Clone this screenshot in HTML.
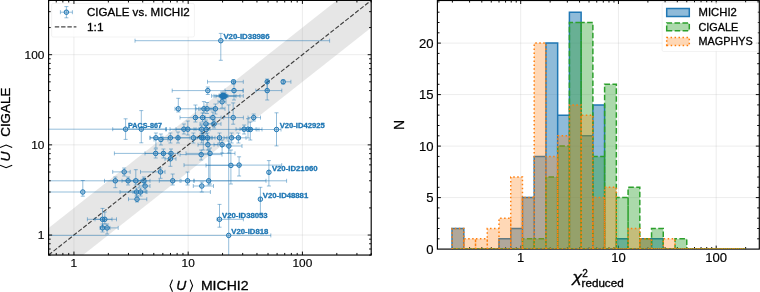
<!DOCTYPE html>
<html><head><meta charset="utf-8"><title>chart</title>
<style>html,body{margin:0;padding:0;background:#fff;}body{width:760px;height:292px;overflow:hidden;font-family:"Liberation Sans",sans-serif;}</style>
</head><body>
<svg width="760" height="292" viewBox="0 0 760 292" style="display:block;will-change:transform;opacity:0.999" font-family="Liberation Sans, sans-serif">
<style>text{stroke:#000;stroke-width:0.3px;stroke-linejoin:round} text.t{stroke-width:0.15px} text.b{stroke:#1f77b4;stroke-width:0.28px}</style>
<rect x="0" y="0" width="760" height="292" fill="#ffffff"/>
<defs><clipPath id="cl"><rect x="48.6" y="0.4" width="322.59999999999997" height="254.65"/></clipPath><clipPath id="cr"><rect x="437.4" y="0.5" width="321.9" height="248.6"/></clipPath></defs>
<g clip-path="url(#cl)">
<polygon points="14.21,255.05 371.20,-26.75 405.59,0.40 48.60,282.20" fill="#808080" fill-opacity="0.2"/>
<line x1="73.94" x2="73.94" y1="0.4" y2="255.05" stroke="#b0b0b0" stroke-opacity="0.27" stroke-width="0.9"/>
<line y1="235.04" y2="235.04" x1="48.6" x2="371.2" stroke="#b0b0b0" stroke-opacity="0.27" stroke-width="0.9"/>
<line x1="188.18" x2="188.18" y1="0.4" y2="255.05" stroke="#b0b0b0" stroke-opacity="0.27" stroke-width="0.9"/>
<line y1="144.87" y2="144.87" x1="48.6" x2="371.2" stroke="#b0b0b0" stroke-opacity="0.27" stroke-width="0.9"/>
<line x1="302.42" x2="302.42" y1="0.4" y2="255.05" stroke="#b0b0b0" stroke-opacity="0.27" stroke-width="0.9"/>
<line y1="54.69" y2="54.69" x1="48.6" x2="371.2" stroke="#b0b0b0" stroke-opacity="0.27" stroke-width="0.9"/>
<line x1="48.60" y1="255.05" x2="371.20" y2="0.40" stroke="#000" stroke-opacity="0.72" stroke-width="1.15" stroke-dasharray="4.4 1.9"/>
<path d="M135.0 40.7H329.6M220.8 33.4V60.3M207.5 81.8H243.3M233.5 80.0V84.0M267.2 81.8H267.2M267.2 79.0V90.6M283.2 81.8H290.9M283.2 80.0V84.0M172.2 90.6H243.0M207.8 87.0V94.5M225.0 90.6H243.3M234.0 81.8V100.0M255.8 90.6H281.8M267.2 81.8V100.0M211.6 95.9H243.3M222.0 92.0V99.0M214.0 95.9H240.0M223.6 93.0V99.0M216.0 96.2H236.0M224.8 93.0V99.0M219.0 95.7H227.0M222.8 94.0V98.0M220.0 96.1H228.0M224.0 94.0V98.0M220.0 96.0H227.0M223.2 94.0V98.0M218.0 101.8H226.0M222.1 98.0V108.0M175.0 108.8H198.7M178.3 98.3V112.0M196.0 108.8H212.0M203.9 101.6V113.0M200.0 108.8H214.0M207.0 102.5V113.5M210.0 108.8H225.0M215.4 104.0V114.0M180.0 117.6H205.0M195.4 105.0V122.0M196.0 117.6H210.0M202.6 113.0V122.0M205.0 117.6H221.0M212.9 112.0V123.0M223.7 117.6H243.4M233.2 102.9V124.2M248.0 117.6H260.5M253.7 114.0V121.0M200.0 123.9H212.0M205.9 120.0V128.0M208.0 123.9H221.0M214.1 120.0V128.0M40.0 129.2H166.0M125.6 118.8V139.4M112.7 129.2H166.2M141.3 110.6V142.8M170.0 129.2H196.0M183.9 124.0V134.0M176.0 129.2H199.0M187.8 121.0V135.0M194.0 129.2H210.0M201.7 125.0V134.0M166.0 129.4H262.0M206.3 125.0V134.0M236.0 129.2H252.0M244.1 125.0V134.0M240.0 129.2H256.0M248.0 118.7V138.0M243.0 129.5H259.0M250.3 122.0V140.0M257.0 129.5H281.0M276.5 112.8V145.9M150.0 137.8H162.0M155.9 133.0V148.0M154.0 139.5H168.0M160.9 134.0V145.0M163.0 137.8H178.0M170.4 133.0V143.0M150.0 137.8H190.0M178.0 132.0V143.0M178.0 137.8H212.0M193.4 133.0V143.0M195.0 137.8H208.0M201.7 133.0V143.0M197.0 137.8H210.0M203.3 133.0V150.0M200.0 137.8H215.0M207.5 133.0V143.0M212.0 137.8H227.0M219.5 133.0V143.0M224.0 137.8H240.0M231.6 133.0V143.0M232.0 137.8H246.0M238.4 133.0V143.0M198.0 144.7H218.0M207.9 140.0V150.0M214.0 144.7H230.0M222.1 140.0V153.0M222.0 146.0H242.0M228.9 141.0V153.0M114.4 153.4H163.0M155.7 149.0V158.0M145.0 153.4H171.0M163.4 149.0V158.0M164.0 153.4H178.0M171.0 149.0V158.0M180.0 154.6H222.0M201.2 150.0V160.0M186.0 153.4H235.0M210.0 148.0V184.0M165.0 158.8H176.0M170.4 154.0V166.3M112.7 171.9H130.2M124.2 168.0V176.0M140.5 171.9H165.0M160.5 168.0V178.3M206.0 165.4H240.0M230.9 150.0V184.0M184.0 165.1H281.7M239.1 156.8V176.0M268.9 172.3H268.9M268.9 160.6V186.0M40.0 180.8H286.6M115.3 177.0V187.7M122.0 180.8H134.0M128.1 177.0V185.0M104.5 180.8H141.0M135.8 169.7V185.0M138.0 180.8H150.0M143.9 177.0V185.0M159.3 180.8H180.0M172.7 174.0V185.0M181.0 180.8H194.0M187.6 172.0V185.0M194.0 180.8H266.0M208.7 150.0V185.0M139.0 186.0H150.0M145.1 182.0V190.0M193.3 186.0H213.5M201.8 182.0V192.0M40.0 192.0H210.4M82.8 180.5V196.2M120.0 192.0H146.0M136.5 188.0V196.0M133.0 192.0H147.0M140.5 188.0V196.0M128.5 199.2H146.8M137.0 196.0V202.0M260.4 199.2H260.4M260.4 187.3V214.7M87.4 219.3H112.0M102.5 208.4V227.0M95.0 219.3H116.5M104.8 212.0V224.0M100.0 227.9H110.0M102.5 224.0V232.0M104.0 227.9H118.2M107.1 224.0V234.0M217.0 219.3H243.4M219.5 204.4V227.2M40.0 235.4H270.8M228.7 104.9V262.0" stroke="#1f77b4" stroke-opacity="0.5" stroke-width="0.95" fill="none"/>
<path d="M135.0 38.7v4.0M329.6 38.7v4.0M218.8 33.4h4.0M218.8 60.3h4.0M207.5 79.8v4.0M243.3 79.8v4.0M231.5 80.0h4.0M231.5 84.0h4.0M267.2 79.8v4.0M267.2 79.8v4.0M265.2 79.0h4.0M265.2 90.6h4.0M283.2 79.8v4.0M290.9 79.8v4.0M281.2 80.0h4.0M281.2 84.0h4.0M172.2 88.6v4.0M243.0 88.6v4.0M205.8 87.0h4.0M205.8 94.5h4.0M225.0 88.6v4.0M243.3 88.6v4.0M232.0 81.8h4.0M232.0 100.0h4.0M255.8 88.6v4.0M281.8 88.6v4.0M265.2 81.8h4.0M265.2 100.0h4.0M211.6 93.9v4.0M243.3 93.9v4.0M220.0 92.0h4.0M220.0 99.0h4.0M214.0 93.9v4.0M240.0 93.9v4.0M221.6 93.0h4.0M221.6 99.0h4.0M216.0 94.2v4.0M236.0 94.2v4.0M222.8 93.0h4.0M222.8 99.0h4.0M219.0 93.7v4.0M227.0 93.7v4.0M220.8 94.0h4.0M220.8 98.0h4.0M220.0 94.1v4.0M228.0 94.1v4.0M222.0 94.0h4.0M222.0 98.0h4.0M220.0 94.0v4.0M227.0 94.0v4.0M221.2 94.0h4.0M221.2 98.0h4.0M218.0 99.8v4.0M226.0 99.8v4.0M220.1 98.0h4.0M220.1 108.0h4.0M175.0 106.8v4.0M198.7 106.8v4.0M176.3 98.3h4.0M176.3 112.0h4.0M196.0 106.8v4.0M212.0 106.8v4.0M201.9 101.6h4.0M201.9 113.0h4.0M200.0 106.8v4.0M214.0 106.8v4.0M205.0 102.5h4.0M205.0 113.5h4.0M210.0 106.8v4.0M225.0 106.8v4.0M213.4 104.0h4.0M213.4 114.0h4.0M180.0 115.6v4.0M205.0 115.6v4.0M193.4 105.0h4.0M193.4 122.0h4.0M196.0 115.6v4.0M210.0 115.6v4.0M200.6 113.0h4.0M200.6 122.0h4.0M205.0 115.6v4.0M221.0 115.6v4.0M210.9 112.0h4.0M210.9 123.0h4.0M223.7 115.6v4.0M243.4 115.6v4.0M231.2 102.9h4.0M231.2 124.2h4.0M248.0 115.6v4.0M260.5 115.6v4.0M251.7 114.0h4.0M251.7 121.0h4.0M200.0 121.9v4.0M212.0 121.9v4.0M203.9 120.0h4.0M203.9 128.0h4.0M208.0 121.9v4.0M221.0 121.9v4.0M212.1 120.0h4.0M212.1 128.0h4.0M40.0 127.2v4.0M166.0 127.2v4.0M123.6 118.8h4.0M123.6 139.4h4.0M112.7 127.2v4.0M166.2 127.2v4.0M139.3 110.6h4.0M139.3 142.8h4.0M170.0 127.2v4.0M196.0 127.2v4.0M181.9 124.0h4.0M181.9 134.0h4.0M176.0 127.2v4.0M199.0 127.2v4.0M185.8 121.0h4.0M185.8 135.0h4.0M194.0 127.2v4.0M210.0 127.2v4.0M199.7 125.0h4.0M199.7 134.0h4.0M166.0 127.4v4.0M262.0 127.4v4.0M204.3 125.0h4.0M204.3 134.0h4.0M236.0 127.2v4.0M252.0 127.2v4.0M242.1 125.0h4.0M242.1 134.0h4.0M240.0 127.2v4.0M256.0 127.2v4.0M246.0 118.7h4.0M246.0 138.0h4.0M243.0 127.5v4.0M259.0 127.5v4.0M248.3 122.0h4.0M248.3 140.0h4.0M257.0 127.5v4.0M281.0 127.5v4.0M274.5 112.8h4.0M274.5 145.9h4.0M150.0 135.8v4.0M162.0 135.8v4.0M153.9 133.0h4.0M153.9 148.0h4.0M154.0 137.5v4.0M168.0 137.5v4.0M158.9 134.0h4.0M158.9 145.0h4.0M163.0 135.8v4.0M178.0 135.8v4.0M168.4 133.0h4.0M168.4 143.0h4.0M150.0 135.8v4.0M190.0 135.8v4.0M176.0 132.0h4.0M176.0 143.0h4.0M178.0 135.8v4.0M212.0 135.8v4.0M191.4 133.0h4.0M191.4 143.0h4.0M195.0 135.8v4.0M208.0 135.8v4.0M199.7 133.0h4.0M199.7 143.0h4.0M197.0 135.8v4.0M210.0 135.8v4.0M201.3 133.0h4.0M201.3 150.0h4.0M200.0 135.8v4.0M215.0 135.8v4.0M205.5 133.0h4.0M205.5 143.0h4.0M212.0 135.8v4.0M227.0 135.8v4.0M217.5 133.0h4.0M217.5 143.0h4.0M224.0 135.8v4.0M240.0 135.8v4.0M229.6 133.0h4.0M229.6 143.0h4.0M232.0 135.8v4.0M246.0 135.8v4.0M236.4 133.0h4.0M236.4 143.0h4.0M198.0 142.7v4.0M218.0 142.7v4.0M205.9 140.0h4.0M205.9 150.0h4.0M214.0 142.7v4.0M230.0 142.7v4.0M220.1 140.0h4.0M220.1 153.0h4.0M222.0 144.0v4.0M242.0 144.0v4.0M226.9 141.0h4.0M226.9 153.0h4.0M114.4 151.4v4.0M163.0 151.4v4.0M153.7 149.0h4.0M153.7 158.0h4.0M145.0 151.4v4.0M171.0 151.4v4.0M161.4 149.0h4.0M161.4 158.0h4.0M164.0 151.4v4.0M178.0 151.4v4.0M169.0 149.0h4.0M169.0 158.0h4.0M180.0 152.6v4.0M222.0 152.6v4.0M199.2 150.0h4.0M199.2 160.0h4.0M186.0 151.4v4.0M235.0 151.4v4.0M208.0 148.0h4.0M208.0 184.0h4.0M165.0 156.8v4.0M176.0 156.8v4.0M168.4 154.0h4.0M168.4 166.3h4.0M112.7 169.9v4.0M130.2 169.9v4.0M122.2 168.0h4.0M122.2 176.0h4.0M140.5 169.9v4.0M165.0 169.9v4.0M158.5 168.0h4.0M158.5 178.3h4.0M206.0 163.4v4.0M240.0 163.4v4.0M228.9 150.0h4.0M228.9 184.0h4.0M184.0 163.1v4.0M281.7 163.1v4.0M237.1 156.8h4.0M237.1 176.0h4.0M268.9 170.3v4.0M268.9 170.3v4.0M266.9 160.6h4.0M266.9 186.0h4.0M40.0 178.8v4.0M286.6 178.8v4.0M113.3 177.0h4.0M113.3 187.7h4.0M122.0 178.8v4.0M134.0 178.8v4.0M126.1 177.0h4.0M126.1 185.0h4.0M104.5 178.8v4.0M141.0 178.8v4.0M133.8 169.7h4.0M133.8 185.0h4.0M138.0 178.8v4.0M150.0 178.8v4.0M141.9 177.0h4.0M141.9 185.0h4.0M159.3 178.8v4.0M180.0 178.8v4.0M170.7 174.0h4.0M170.7 185.0h4.0M181.0 178.8v4.0M194.0 178.8v4.0M185.6 172.0h4.0M185.6 185.0h4.0M194.0 178.8v4.0M266.0 178.8v4.0M206.7 150.0h4.0M206.7 185.0h4.0M139.0 184.0v4.0M150.0 184.0v4.0M143.1 182.0h4.0M143.1 190.0h4.0M193.3 184.0v4.0M213.5 184.0v4.0M199.8 182.0h4.0M199.8 192.0h4.0M40.0 190.0v4.0M210.4 190.0v4.0M80.8 180.5h4.0M80.8 196.2h4.0M120.0 190.0v4.0M146.0 190.0v4.0M134.5 188.0h4.0M134.5 196.0h4.0M133.0 190.0v4.0M147.0 190.0v4.0M138.5 188.0h4.0M138.5 196.0h4.0M128.5 197.2v4.0M146.8 197.2v4.0M135.0 196.0h4.0M135.0 202.0h4.0M260.4 197.2v4.0M260.4 197.2v4.0M258.4 187.3h4.0M258.4 214.7h4.0M87.4 217.3v4.0M112.0 217.3v4.0M100.5 208.4h4.0M100.5 227.0h4.0M95.0 217.3v4.0M116.5 217.3v4.0M102.8 212.0h4.0M102.8 224.0h4.0M100.0 225.9v4.0M110.0 225.9v4.0M100.5 224.0h4.0M100.5 232.0h4.0M104.0 225.9v4.0M118.2 225.9v4.0M105.1 224.0h4.0M105.1 234.0h4.0M217.0 217.3v4.0M243.4 217.3v4.0M217.5 204.4h4.0M217.5 227.2h4.0M40.0 233.4v4.0M270.8 233.4v4.0M226.7 104.9h4.0M226.7 262.0h4.0" stroke="#1f77b4" stroke-opacity="0.5" stroke-width="0.95" fill="none"/>
<circle cx="220.8" cy="40.7" r="2.25" fill="#1f77b4" fill-opacity="0.22" stroke="#1f77b4" stroke-opacity="1" stroke-width="1.0"/>
<circle cx="233.5" cy="81.8" r="2.25" fill="#1f77b4" fill-opacity="0.22" stroke="#1f77b4" stroke-opacity="1" stroke-width="1.0"/>
<circle cx="267.2" cy="81.8" r="2.25" fill="#1f77b4" fill-opacity="0.22" stroke="#1f77b4" stroke-opacity="1" stroke-width="1.0"/>
<circle cx="283.2" cy="81.8" r="2.25" fill="#1f77b4" fill-opacity="0.22" stroke="#1f77b4" stroke-opacity="1" stroke-width="1.0"/>
<circle cx="207.8" cy="90.6" r="2.25" fill="#1f77b4" fill-opacity="0.22" stroke="#1f77b4" stroke-opacity="1" stroke-width="1.0"/>
<circle cx="234.0" cy="90.6" r="2.25" fill="#1f77b4" fill-opacity="0.22" stroke="#1f77b4" stroke-opacity="1" stroke-width="1.0"/>
<circle cx="267.2" cy="90.6" r="2.25" fill="#1f77b4" fill-opacity="0.22" stroke="#1f77b4" stroke-opacity="1" stroke-width="1.0"/>
<circle cx="222.0" cy="95.9" r="2.25" fill="#1f77b4" fill-opacity="0.22" stroke="#1f77b4" stroke-opacity="1" stroke-width="1.0"/>
<circle cx="223.6" cy="95.9" r="2.25" fill="#1f77b4" fill-opacity="0.22" stroke="#1f77b4" stroke-opacity="1" stroke-width="1.0"/>
<circle cx="224.8" cy="96.2" r="2.25" fill="#1f77b4" fill-opacity="0.22" stroke="#1f77b4" stroke-opacity="1" stroke-width="1.0"/>
<circle cx="222.8" cy="95.7" r="2.25" fill="#1f77b4" fill-opacity="0.22" stroke="#1f77b4" stroke-opacity="1" stroke-width="1.0"/>
<circle cx="224.0" cy="96.1" r="2.25" fill="#1f77b4" fill-opacity="0.22" stroke="#1f77b4" stroke-opacity="1" stroke-width="1.0"/>
<circle cx="223.2" cy="96.0" r="2.25" fill="#1f77b4" fill-opacity="0.22" stroke="#1f77b4" stroke-opacity="1" stroke-width="1.0"/>
<circle cx="222.1" cy="101.8" r="2.25" fill="#1f77b4" fill-opacity="0.22" stroke="#1f77b4" stroke-opacity="1" stroke-width="1.0"/>
<circle cx="178.3" cy="108.8" r="2.25" fill="#1f77b4" fill-opacity="0.22" stroke="#1f77b4" stroke-opacity="1" stroke-width="1.0"/>
<circle cx="203.9" cy="108.8" r="2.25" fill="#1f77b4" fill-opacity="0.22" stroke="#1f77b4" stroke-opacity="1" stroke-width="1.0"/>
<circle cx="207.0" cy="108.8" r="2.25" fill="#1f77b4" fill-opacity="0.22" stroke="#1f77b4" stroke-opacity="1" stroke-width="1.0"/>
<circle cx="215.4" cy="108.8" r="2.25" fill="#1f77b4" fill-opacity="0.22" stroke="#1f77b4" stroke-opacity="1" stroke-width="1.0"/>
<circle cx="195.4" cy="117.6" r="2.25" fill="#1f77b4" fill-opacity="0.22" stroke="#1f77b4" stroke-opacity="1" stroke-width="1.0"/>
<circle cx="202.6" cy="117.6" r="2.25" fill="#1f77b4" fill-opacity="0.22" stroke="#1f77b4" stroke-opacity="1" stroke-width="1.0"/>
<circle cx="212.9" cy="117.6" r="2.25" fill="#1f77b4" fill-opacity="0.22" stroke="#1f77b4" stroke-opacity="1" stroke-width="1.0"/>
<circle cx="233.2" cy="117.6" r="2.25" fill="#1f77b4" fill-opacity="0.22" stroke="#1f77b4" stroke-opacity="1" stroke-width="1.0"/>
<circle cx="253.7" cy="117.6" r="2.25" fill="#1f77b4" fill-opacity="0.22" stroke="#1f77b4" stroke-opacity="1" stroke-width="1.0"/>
<circle cx="205.9" cy="123.9" r="2.25" fill="#1f77b4" fill-opacity="0.22" stroke="#1f77b4" stroke-opacity="1" stroke-width="1.0"/>
<circle cx="214.1" cy="123.9" r="2.25" fill="#1f77b4" fill-opacity="0.22" stroke="#1f77b4" stroke-opacity="1" stroke-width="1.0"/>
<circle cx="125.6" cy="129.2" r="2.25" fill="#1f77b4" fill-opacity="0.22" stroke="#1f77b4" stroke-opacity="1" stroke-width="1.0"/>
<circle cx="141.3" cy="129.2" r="2.25" fill="#1f77b4" fill-opacity="0.22" stroke="#1f77b4" stroke-opacity="1" stroke-width="1.0"/>
<circle cx="183.9" cy="129.2" r="2.25" fill="#1f77b4" fill-opacity="0.22" stroke="#1f77b4" stroke-opacity="1" stroke-width="1.0"/>
<circle cx="187.8" cy="129.2" r="2.25" fill="#1f77b4" fill-opacity="0.22" stroke="#1f77b4" stroke-opacity="1" stroke-width="1.0"/>
<circle cx="201.7" cy="129.2" r="2.25" fill="#1f77b4" fill-opacity="0.22" stroke="#1f77b4" stroke-opacity="1" stroke-width="1.0"/>
<circle cx="206.3" cy="129.4" r="2.25" fill="#1f77b4" fill-opacity="0.22" stroke="#1f77b4" stroke-opacity="1" stroke-width="1.0"/>
<circle cx="244.1" cy="129.2" r="2.25" fill="#1f77b4" fill-opacity="0.22" stroke="#1f77b4" stroke-opacity="1" stroke-width="1.0"/>
<circle cx="248.0" cy="129.2" r="2.25" fill="#1f77b4" fill-opacity="0.22" stroke="#1f77b4" stroke-opacity="1" stroke-width="1.0"/>
<circle cx="250.3" cy="129.5" r="2.25" fill="#1f77b4" fill-opacity="0.22" stroke="#1f77b4" stroke-opacity="1" stroke-width="1.0"/>
<circle cx="276.5" cy="129.5" r="2.25" fill="#1f77b4" fill-opacity="0.22" stroke="#1f77b4" stroke-opacity="1" stroke-width="1.0"/>
<circle cx="155.9" cy="137.8" r="2.25" fill="#1f77b4" fill-opacity="0.22" stroke="#1f77b4" stroke-opacity="1" stroke-width="1.0"/>
<circle cx="160.9" cy="139.5" r="2.25" fill="#1f77b4" fill-opacity="0.22" stroke="#1f77b4" stroke-opacity="1" stroke-width="1.0"/>
<circle cx="170.4" cy="137.8" r="2.25" fill="#1f77b4" fill-opacity="0.22" stroke="#1f77b4" stroke-opacity="1" stroke-width="1.0"/>
<circle cx="178.0" cy="137.8" r="2.25" fill="#1f77b4" fill-opacity="0.22" stroke="#1f77b4" stroke-opacity="1" stroke-width="1.0"/>
<circle cx="193.4" cy="137.8" r="2.25" fill="#1f77b4" fill-opacity="0.22" stroke="#1f77b4" stroke-opacity="1" stroke-width="1.0"/>
<circle cx="201.7" cy="137.8" r="2.25" fill="#1f77b4" fill-opacity="0.22" stroke="#1f77b4" stroke-opacity="1" stroke-width="1.0"/>
<circle cx="203.3" cy="137.8" r="2.25" fill="#1f77b4" fill-opacity="0.22" stroke="#1f77b4" stroke-opacity="1" stroke-width="1.0"/>
<circle cx="207.5" cy="137.8" r="2.25" fill="#1f77b4" fill-opacity="0.22" stroke="#1f77b4" stroke-opacity="1" stroke-width="1.0"/>
<circle cx="219.5" cy="137.8" r="2.25" fill="#1f77b4" fill-opacity="0.22" stroke="#1f77b4" stroke-opacity="1" stroke-width="1.0"/>
<circle cx="231.6" cy="137.8" r="2.25" fill="#1f77b4" fill-opacity="0.22" stroke="#1f77b4" stroke-opacity="1" stroke-width="1.0"/>
<circle cx="238.4" cy="137.8" r="2.25" fill="#1f77b4" fill-opacity="0.22" stroke="#1f77b4" stroke-opacity="1" stroke-width="1.0"/>
<circle cx="207.9" cy="144.7" r="2.25" fill="#1f77b4" fill-opacity="0.22" stroke="#1f77b4" stroke-opacity="1" stroke-width="1.0"/>
<circle cx="222.1" cy="144.7" r="2.25" fill="#1f77b4" fill-opacity="0.22" stroke="#1f77b4" stroke-opacity="1" stroke-width="1.0"/>
<circle cx="228.9" cy="146.0" r="2.25" fill="#1f77b4" fill-opacity="0.22" stroke="#1f77b4" stroke-opacity="1" stroke-width="1.0"/>
<circle cx="155.7" cy="153.4" r="2.25" fill="#1f77b4" fill-opacity="0.22" stroke="#1f77b4" stroke-opacity="1" stroke-width="1.0"/>
<circle cx="163.4" cy="153.4" r="2.25" fill="#1f77b4" fill-opacity="0.22" stroke="#1f77b4" stroke-opacity="1" stroke-width="1.0"/>
<circle cx="171.0" cy="153.4" r="2.25" fill="#1f77b4" fill-opacity="0.22" stroke="#1f77b4" stroke-opacity="1" stroke-width="1.0"/>
<circle cx="201.2" cy="154.6" r="2.25" fill="#1f77b4" fill-opacity="0.22" stroke="#1f77b4" stroke-opacity="1" stroke-width="1.0"/>
<circle cx="210.0" cy="153.4" r="2.25" fill="#1f77b4" fill-opacity="0.22" stroke="#1f77b4" stroke-opacity="1" stroke-width="1.0"/>
<circle cx="170.4" cy="158.8" r="2.25" fill="#1f77b4" fill-opacity="0.22" stroke="#1f77b4" stroke-opacity="1" stroke-width="1.0"/>
<circle cx="124.2" cy="171.9" r="2.25" fill="#1f77b4" fill-opacity="0.22" stroke="#1f77b4" stroke-opacity="1" stroke-width="1.0"/>
<circle cx="160.5" cy="171.9" r="2.25" fill="#1f77b4" fill-opacity="0.22" stroke="#1f77b4" stroke-opacity="1" stroke-width="1.0"/>
<circle cx="230.9" cy="165.4" r="2.25" fill="#1f77b4" fill-opacity="0.22" stroke="#1f77b4" stroke-opacity="1" stroke-width="1.0"/>
<circle cx="239.1" cy="165.1" r="2.25" fill="#1f77b4" fill-opacity="0.22" stroke="#1f77b4" stroke-opacity="1" stroke-width="1.0"/>
<circle cx="268.9" cy="172.3" r="2.25" fill="#1f77b4" fill-opacity="0.22" stroke="#1f77b4" stroke-opacity="1" stroke-width="1.0"/>
<circle cx="115.3" cy="180.8" r="2.25" fill="#1f77b4" fill-opacity="0.22" stroke="#1f77b4" stroke-opacity="1" stroke-width="1.0"/>
<circle cx="128.1" cy="180.8" r="2.25" fill="#1f77b4" fill-opacity="0.22" stroke="#1f77b4" stroke-opacity="1" stroke-width="1.0"/>
<circle cx="135.8" cy="180.8" r="2.25" fill="#1f77b4" fill-opacity="0.22" stroke="#1f77b4" stroke-opacity="1" stroke-width="1.0"/>
<circle cx="143.9" cy="180.8" r="2.25" fill="#1f77b4" fill-opacity="0.22" stroke="#1f77b4" stroke-opacity="1" stroke-width="1.0"/>
<circle cx="172.7" cy="180.8" r="2.25" fill="#1f77b4" fill-opacity="0.22" stroke="#1f77b4" stroke-opacity="1" stroke-width="1.0"/>
<circle cx="187.6" cy="180.8" r="2.25" fill="#1f77b4" fill-opacity="0.22" stroke="#1f77b4" stroke-opacity="1" stroke-width="1.0"/>
<circle cx="208.7" cy="180.8" r="2.25" fill="#1f77b4" fill-opacity="0.22" stroke="#1f77b4" stroke-opacity="1" stroke-width="1.0"/>
<circle cx="145.1" cy="186.0" r="2.25" fill="#1f77b4" fill-opacity="0.22" stroke="#1f77b4" stroke-opacity="1" stroke-width="1.0"/>
<circle cx="201.8" cy="186.0" r="2.25" fill="#1f77b4" fill-opacity="0.22" stroke="#1f77b4" stroke-opacity="1" stroke-width="1.0"/>
<circle cx="82.8" cy="192.0" r="2.25" fill="#1f77b4" fill-opacity="0.22" stroke="#1f77b4" stroke-opacity="1" stroke-width="1.0"/>
<circle cx="136.5" cy="192.0" r="2.25" fill="#1f77b4" fill-opacity="0.22" stroke="#1f77b4" stroke-opacity="1" stroke-width="1.0"/>
<circle cx="140.5" cy="192.0" r="2.25" fill="#1f77b4" fill-opacity="0.22" stroke="#1f77b4" stroke-opacity="1" stroke-width="1.0"/>
<circle cx="137.0" cy="199.2" r="2.25" fill="#1f77b4" fill-opacity="0.22" stroke="#1f77b4" stroke-opacity="1" stroke-width="1.0"/>
<circle cx="260.4" cy="199.2" r="2.25" fill="#1f77b4" fill-opacity="0.22" stroke="#1f77b4" stroke-opacity="1" stroke-width="1.0"/>
<circle cx="102.5" cy="219.3" r="2.25" fill="#1f77b4" fill-opacity="0.22" stroke="#1f77b4" stroke-opacity="1" stroke-width="1.0"/>
<circle cx="104.8" cy="219.3" r="2.25" fill="#1f77b4" fill-opacity="0.22" stroke="#1f77b4" stroke-opacity="1" stroke-width="1.0"/>
<circle cx="102.5" cy="227.9" r="2.25" fill="#1f77b4" fill-opacity="0.22" stroke="#1f77b4" stroke-opacity="1" stroke-width="1.0"/>
<circle cx="107.1" cy="227.9" r="2.25" fill="#1f77b4" fill-opacity="0.22" stroke="#1f77b4" stroke-opacity="1" stroke-width="1.0"/>
<circle cx="219.5" cy="219.3" r="2.25" fill="#1f77b4" fill-opacity="0.22" stroke="#1f77b4" stroke-opacity="1" stroke-width="1.0"/>
<circle cx="228.7" cy="235.4" r="2.25" fill="#1f77b4" fill-opacity="0.22" stroke="#1f77b4" stroke-opacity="1" stroke-width="1.0"/>
</g>
<text x="223.40" y="39.00" font-size="6.4" text-anchor="start" font-weight="bold" fill="#1f77b4" textLength="46.2" lengthAdjust="spacingAndGlyphs" class="b">V20-ID38986</text>
<text x="128.10" y="127.70" font-size="6.4" text-anchor="start" font-weight="bold" fill="#1f77b4" textLength="33.8" lengthAdjust="spacingAndGlyphs" class="b">PACS-867</text>
<text x="279.70" y="127.70" font-size="6.4" text-anchor="start" font-weight="bold" fill="#1f77b4" textLength="45.1" lengthAdjust="spacingAndGlyphs" class="b">V20-ID42925</text>
<text x="271.90" y="170.50" font-size="6.4" text-anchor="start" font-weight="bold" fill="#1f77b4" textLength="45.7" lengthAdjust="spacingAndGlyphs" class="b">V20-ID21060</text>
<text x="262.80" y="197.60" font-size="6.4" text-anchor="start" font-weight="bold" fill="#1f77b4" textLength="45.4" lengthAdjust="spacingAndGlyphs" class="b">V20-ID48881</text>
<text x="222.00" y="217.80" font-size="6.4" text-anchor="start" font-weight="bold" fill="#1f77b4" textLength="45.7" lengthAdjust="spacingAndGlyphs" class="b">V20-ID38053</text>
<text x="231.30" y="233.50" font-size="6.4" text-anchor="start" font-weight="bold" fill="#1f77b4" textLength="37.0" lengthAdjust="spacingAndGlyphs" class="b">V20-ID818</text>
<rect x="51.6" y="3.4" width="142.8" height="33.6" rx="1.6" fill="#fff" fill-opacity="0.8" stroke="#cccccc" stroke-opacity="0.45" stroke-width="0.55"/>
<path d="M60.400000000000006 12.2H72.4M66.4 6.6V17.799999999999997M60.400000000000006 10.2v4M72.4 10.2v4M64.4 6.6h4M64.4 17.799999999999997h4" stroke="#1f77b4" stroke-opacity="0.5" stroke-width="0.95" fill="none"/>
<circle cx="66.4" cy="12.2" r="2.25" fill="#1f77b4" fill-opacity="0.22" stroke="#1f77b4" stroke-opacity="1" stroke-width="1.0"/>
<line x1="54.8" x2="76.4" y1="26.9" y2="26.9" stroke="#000" stroke-opacity="0.72" stroke-width="1.15" stroke-dasharray="4.4 1.9"/>
<text x="87.00" y="16.40" font-size="11.3" text-anchor="start" font-weight="normal" fill="#000" textLength="102.8" lengthAdjust="spacingAndGlyphs">CIGALE vs. MICHI2</text>
<text x="87.00" y="30.90" font-size="11.3" text-anchor="start" font-weight="normal" fill="#000" textLength="16.5" lengthAdjust="spacingAndGlyphs">1:1</text>
<path d="M48.60 255.05v-2.1M48.60 0.4v2.1M48.6 255.05h2.1M371.2 255.05h-2.1M56.25 255.05v-2.1M56.25 0.4v2.1M48.6 249.01h2.1M371.2 249.01h-2.1M62.87 255.05v-2.1M62.87 0.4v2.1M48.6 243.78h2.1M371.2 243.78h-2.1M68.72 255.05v-2.1M68.72 0.4v2.1M48.6 239.17h2.1M371.2 239.17h-2.1M73.94 255.05v-3.5M73.94 0.4v3.5M48.6 235.04h3.5M371.2 235.04h-3.5M108.33 255.05v-2.1M108.33 0.4v2.1M48.6 207.90h2.1M371.2 207.90h-2.1M128.45 255.05v-2.1M128.45 0.4v2.1M48.6 192.02h2.1M371.2 192.02h-2.1M142.72 255.05v-2.1M142.72 0.4v2.1M48.6 180.75h2.1M371.2 180.75h-2.1M153.79 255.05v-2.1M153.79 0.4v2.1M48.6 172.01h2.1M371.2 172.01h-2.1M162.84 255.05v-2.1M162.84 0.4v2.1M48.6 164.87h2.1M371.2 164.87h-2.1M170.49 255.05v-2.1M170.49 0.4v2.1M48.6 158.84h2.1M371.2 158.84h-2.1M177.11 255.05v-2.1M177.11 0.4v2.1M48.6 153.61h2.1M371.2 153.61h-2.1M182.96 255.05v-2.1M182.96 0.4v2.1M48.6 148.99h2.1M371.2 148.99h-2.1M188.18 255.05v-3.5M188.18 0.4v3.5M48.6 144.87h3.5M371.2 144.87h-3.5M222.57 255.05v-2.1M222.57 0.4v2.1M48.6 117.72h2.1M371.2 117.72h-2.1M242.69 255.05v-2.1M242.69 0.4v2.1M48.6 101.84h2.1M371.2 101.84h-2.1M256.96 255.05v-2.1M256.96 0.4v2.1M48.6 90.58h2.1M371.2 90.58h-2.1M268.03 255.05v-2.1M268.03 0.4v2.1M48.6 81.84h2.1M371.2 81.84h-2.1M277.08 255.05v-2.1M277.08 0.4v2.1M48.6 74.70h2.1M371.2 74.70h-2.1M284.73 255.05v-2.1M284.73 0.4v2.1M48.6 68.66h2.1M371.2 68.66h-2.1M291.35 255.05v-2.1M291.35 0.4v2.1M48.6 63.43h2.1M371.2 63.43h-2.1M297.19 255.05v-2.1M297.19 0.4v2.1M48.6 58.82h2.1M371.2 58.82h-2.1M302.42 255.05v-3.5M302.42 0.4v3.5M48.6 54.69h3.5M371.2 54.69h-3.5M336.81 255.05v-2.1M336.81 0.4v2.1M48.6 27.55h2.1M371.2 27.55h-2.1M356.93 255.05v-2.1M356.93 0.4v2.1M48.6 11.67h2.1M371.2 11.67h-2.1M371.20 255.05v-2.1M371.20 0.4v2.1M48.6 0.40h2.1M371.2 0.40h-2.1" stroke="#000" stroke-width="0.95" fill="none"/>
<rect x="48.6" y="0.4" width="322.59999999999997" height="254.65" fill="none" stroke="#000" stroke-width="1.15"/>
<text x="37.80" y="238.99" font-size="10.9" text-anchor="start" font-weight="normal" fill="#000" textLength="6.6" lengthAdjust="spacingAndGlyphs" class="t">1</text>
<text x="70.64" y="267.30" font-size="10.9" text-anchor="start" font-weight="normal" fill="#000" textLength="6.6" lengthAdjust="spacingAndGlyphs" class="t">1</text>
<text x="31.20" y="148.82" font-size="10.9" text-anchor="start" font-weight="normal" fill="#000" textLength="13.2" lengthAdjust="spacingAndGlyphs" class="t">10</text>
<text x="181.58" y="267.30" font-size="10.9" text-anchor="start" font-weight="normal" fill="#000" textLength="13.2" lengthAdjust="spacingAndGlyphs" class="t">10</text>
<text x="24.60" y="58.64" font-size="10.9" text-anchor="start" font-weight="normal" fill="#000" textLength="19.8" lengthAdjust="spacingAndGlyphs" class="t">100</text>
<text x="292.52" y="267.30" font-size="10.9" text-anchor="start" font-weight="normal" fill="#000" textLength="19.8" lengthAdjust="spacingAndGlyphs" class="t">100</text>
<g transform="translate(169.4,290.0)"><path d="M3.1 -10.4L0.6 -4.3L3.1 1.8" fill="none" stroke="#000" stroke-width="1.05"/><text x="6.9" y="0" font-size="13.2" font-style="italic" textLength="10.0" lengthAdjust="spacingAndGlyphs">U</text><path d="M20.7 -10.4L23.2 -4.3L20.7 1.8" fill="none" stroke="#000" stroke-width="1.05"/><text x="31.5" y="0" font-size="13.2" textLength="47.7" lengthAdjust="spacingAndGlyphs">MICHI2</text></g>
<g transform="translate(10.4,168.3) rotate(-90)"><path d="M3.1 -10.4L0.6 -4.3L3.1 1.8" fill="none" stroke="#000" stroke-width="1.05"/><text x="6.9" y="0" font-size="13.2" font-style="italic" textLength="10.0" lengthAdjust="spacingAndGlyphs">U</text><path d="M20.7 -10.4L23.2 -4.3L20.7 1.8" fill="none" stroke="#000" stroke-width="1.05"/><text x="31.5" y="0" font-size="13.2" textLength="49.2" lengthAdjust="spacingAndGlyphs">CIGALE</text></g>
<g>
<line x1="520.70" x2="520.70" y1="0.5" y2="249.1" stroke="#b0b0b0" stroke-opacity="0.27" stroke-width="0.9"/>
<line x1="618.45" x2="618.45" y1="0.5" y2="249.1" stroke="#b0b0b0" stroke-opacity="0.27" stroke-width="0.9"/>
<line x1="716.20" x2="716.20" y1="0.5" y2="249.1" stroke="#b0b0b0" stroke-opacity="0.27" stroke-width="0.9"/>
<line y1="197.60" y2="197.60" x1="437.4" x2="759.3" stroke="#b0b0b0" stroke-opacity="0.27" stroke-width="0.9"/>
<line y1="146.10" y2="146.10" x1="437.4" x2="759.3" stroke="#b0b0b0" stroke-opacity="0.27" stroke-width="0.9"/>
<line y1="94.60" y2="94.60" x1="437.4" x2="759.3" stroke="#b0b0b0" stroke-opacity="0.27" stroke-width="0.9"/>
<line y1="43.10" y2="43.10" x1="437.4" x2="759.3" stroke="#b0b0b0" stroke-opacity="0.27" stroke-width="0.9"/>
</g>
<path d="M452.38 249.1v-2.1M452.38 0.5v2.1M469.59 249.1v-2.1M469.59 0.5v2.1M481.80 249.1v-2.1M481.80 0.5v2.1M491.27 249.1v-2.1M491.27 0.5v2.1M499.01 249.1v-2.1M499.01 0.5v2.1M505.56 249.1v-2.1M505.56 0.5v2.1M511.23 249.1v-2.1M511.23 0.5v2.1M516.23 249.1v-2.1M516.23 0.5v2.1M520.70 249.1v-3.5M520.70 0.5v3.5M550.13 249.1v-2.1M550.13 0.5v2.1M567.34 249.1v-2.1M567.34 0.5v2.1M579.55 249.1v-2.1M579.55 0.5v2.1M589.02 249.1v-2.1M589.02 0.5v2.1M596.76 249.1v-2.1M596.76 0.5v2.1M603.31 249.1v-2.1M603.31 0.5v2.1M608.98 249.1v-2.1M608.98 0.5v2.1M613.98 249.1v-2.1M613.98 0.5v2.1M618.45 249.1v-3.5M618.45 0.5v3.5M647.88 249.1v-2.1M647.88 0.5v2.1M665.09 249.1v-2.1M665.09 0.5v2.1M677.30 249.1v-2.1M677.30 0.5v2.1M686.77 249.1v-2.1M686.77 0.5v2.1M694.51 249.1v-2.1M694.51 0.5v2.1M701.06 249.1v-2.1M701.06 0.5v2.1M706.73 249.1v-2.1M706.73 0.5v2.1M711.73 249.1v-2.1M711.73 0.5v2.1M716.20 249.1v-3.5M716.20 0.5v3.5M745.63 249.1v-2.1M745.63 0.5v2.1M437.4 238.80h2.1M759.3 238.80h-2.1M437.4 228.50h2.1M759.3 228.50h-2.1M437.4 218.20h2.1M759.3 218.20h-2.1M437.4 207.90h2.1M759.3 207.90h-2.1M437.4 197.60h3.5M759.3 197.60h-3.5M437.4 187.30h2.1M759.3 187.30h-2.1M437.4 177.00h2.1M759.3 177.00h-2.1M437.4 166.70h2.1M759.3 166.70h-2.1M437.4 156.40h2.1M759.3 156.40h-2.1M437.4 146.10h3.5M759.3 146.10h-3.5M437.4 135.80h2.1M759.3 135.80h-2.1M437.4 125.50h2.1M759.3 125.50h-2.1M437.4 115.20h2.1M759.3 115.20h-2.1M437.4 104.90h2.1M759.3 104.90h-2.1M437.4 94.60h3.5M759.3 94.60h-3.5M437.4 84.30h2.1M759.3 84.30h-2.1M437.4 74.00h2.1M759.3 74.00h-2.1M437.4 63.70h2.1M759.3 63.70h-2.1M437.4 53.40h2.1M759.3 53.40h-2.1M437.4 43.10h3.5M759.3 43.10h-3.5M437.4 32.80h2.1M759.3 32.80h-2.1M437.4 22.50h2.1M759.3 22.50h-2.1M437.4 12.20h2.1M759.3 12.20h-2.1M437.4 1.90h2.1M759.3 1.90h-2.1" stroke="#000" stroke-width="0.95" fill="none"/>
<rect x="437.4" y="0.5" width="321.9" height="248.6" fill="none" stroke="#000" stroke-width="1.15"/>
<g clip-path="url(#cr)">
<path d="M452.05 249.10H463.79V228.50H452.05ZM498.99 249.10H510.73V238.80H498.99ZM510.73 249.10H522.46V228.50H510.73ZM522.46 249.10H534.20V197.60H522.46ZM534.20 249.10H545.93V156.40H534.20ZM545.93 249.10H557.66V43.10H545.93ZM557.66 249.10H569.40V115.20H557.66ZM569.40 249.10H581.13V12.20H569.40ZM581.13 249.10H592.87V135.80H581.13ZM592.87 249.10H604.61V104.90H592.87ZM616.34 249.10H628.08V238.80H616.34ZM639.81 249.10H651.55V238.80H639.81ZM651.55 249.10H663.28V238.80H651.55Z" fill="#1f77b4" fill-opacity="0.5" stroke="none"/>
<path d="M452.05 249.10H463.79V228.50H452.05ZM463.79 249.10H475.52V249.10H463.79ZM475.52 249.10H487.25V249.10H475.52ZM487.25 249.10H498.99V249.10H487.25ZM498.99 249.10H510.73V238.80H498.99ZM510.73 249.10H522.46V228.50H510.73ZM522.46 249.10H534.20V197.60H522.46ZM534.20 249.10H545.93V156.40H534.20ZM545.93 249.10H557.66V43.10H545.93ZM557.66 249.10H569.40V115.20H557.66ZM569.40 249.10H581.13V12.20H569.40ZM581.13 249.10H592.87V135.80H581.13ZM592.87 249.10H604.61V104.90H592.87ZM604.61 249.10H616.34V249.10H604.61ZM616.34 249.10H628.08V238.80H616.34ZM628.08 249.10H639.81V249.10H628.08ZM639.81 249.10H651.55V238.80H639.81ZM651.55 249.10H663.28V238.80H651.55ZM663.28 249.10H675.01V249.10H663.28ZM675.01 249.10H686.75V249.10H675.01ZM686.75 249.10H698.49V249.10H686.75ZM698.49 249.10H710.22V249.10H698.49ZM710.22 249.10H721.95V249.10H710.22ZM721.95 249.10H733.69V249.10H721.95ZM733.69 249.10H745.42V249.10H733.69Z" fill="none" stroke="#1f77b4" stroke-width="1.5" stroke-linejoin="miter"/>
<path d="M522.46 249.10H534.20V238.80H522.46ZM534.20 249.10H545.93V238.80H534.20ZM545.93 249.10H557.66V177.00H545.93ZM557.66 249.10H569.40V146.10H557.66ZM569.40 249.10H581.13V22.50H569.40ZM581.13 249.10H592.87V22.50H581.13ZM592.87 249.10H604.61V156.40H592.87ZM604.61 249.10H616.34V84.30H604.61ZM616.34 249.10H628.08V197.60H616.34ZM628.08 249.10H639.81V187.30H628.08ZM639.81 249.10H651.55V238.80H639.81ZM651.55 249.10H663.28V228.50H651.55ZM675.01 249.10H686.75V238.80H675.01Z" fill="#2ca02c" fill-opacity="0.4" stroke="none"/>
<path d="M452.05 249.10H463.79V249.10H452.05ZM463.79 249.10H475.52V249.10H463.79ZM475.52 249.10H487.25V249.10H475.52ZM487.25 249.10H498.99V249.10H487.25ZM498.99 249.10H510.73V249.10H498.99ZM510.73 249.10H522.46V249.10H510.73ZM522.46 249.10H534.20V238.80H522.46ZM534.20 249.10H545.93V238.80H534.20ZM545.93 249.10H557.66V177.00H545.93ZM557.66 249.10H569.40V146.10H557.66ZM569.40 249.10H581.13V22.50H569.40ZM581.13 249.10H592.87V22.50H581.13ZM592.87 249.10H604.61V156.40H592.87ZM604.61 249.10H616.34V84.30H604.61ZM616.34 249.10H628.08V197.60H616.34ZM628.08 249.10H639.81V187.30H628.08ZM639.81 249.10H651.55V238.80H639.81ZM651.55 249.10H663.28V228.50H651.55ZM663.28 249.10H675.01V249.10H663.28ZM675.01 249.10H686.75V238.80H675.01ZM686.75 249.10H698.49V249.10H686.75ZM698.49 249.10H710.22V249.10H698.49ZM710.22 249.10H721.95V249.10H710.22ZM721.95 249.10H733.69V249.10H721.95ZM733.69 249.10H745.42V249.10H733.69Z" fill="none" stroke="#2ca02c" stroke-width="1.5" stroke-dasharray="5.55 2.4" stroke-linejoin="miter"/>
<path d="M452.05 249.10H463.79V228.50H452.05ZM463.79 249.10H475.52V238.80H463.79ZM475.52 249.10H487.25V238.80H475.52ZM487.25 249.10H498.99V228.50H487.25ZM498.99 249.10H510.73V218.20H498.99ZM510.73 249.10H522.46V177.00H510.73ZM522.46 249.10H534.20V197.60H522.46ZM534.20 249.10H545.93V43.10H534.20ZM545.93 249.10H557.66V156.40H545.93ZM557.66 249.10H569.40V135.80H557.66ZM569.40 249.10H581.13V104.90H569.40ZM581.13 249.10H592.87V115.20H581.13ZM592.87 249.10H604.61V197.60H592.87ZM604.61 249.10H616.34V187.30H604.61ZM628.08 249.10H639.81V228.50H628.08ZM639.81 249.10H651.55V238.80H639.81ZM663.28 249.10H675.01V238.80H663.28Z" fill="#ff7f0e" fill-opacity="0.3" stroke="none"/>
<path d="M452.05 249.10H463.79V228.50H452.05ZM463.79 249.10H475.52V238.80H463.79ZM475.52 249.10H487.25V238.80H475.52ZM487.25 249.10H498.99V228.50H487.25ZM498.99 249.10H510.73V218.20H498.99ZM510.73 249.10H522.46V177.00H510.73ZM522.46 249.10H534.20V197.60H522.46ZM534.20 249.10H545.93V43.10H534.20ZM545.93 249.10H557.66V156.40H545.93ZM557.66 249.10H569.40V135.80H557.66ZM569.40 249.10H581.13V104.90H569.40ZM581.13 249.10H592.87V115.20H581.13ZM592.87 249.10H604.61V197.60H592.87ZM604.61 249.10H616.34V187.30H604.61ZM616.34 249.10H628.08V249.10H616.34ZM628.08 249.10H639.81V228.50H628.08ZM639.81 249.10H651.55V238.80H639.81ZM651.55 249.10H663.28V249.10H651.55ZM663.28 249.10H675.01V238.80H663.28ZM675.01 249.10H686.75V249.10H675.01ZM686.75 249.10H698.49V249.10H686.75ZM698.49 249.10H710.22V249.10H698.49ZM710.22 249.10H721.95V249.10H710.22ZM721.95 249.10H733.69V249.10H721.95ZM733.69 249.10H745.42V249.10H733.69Z" fill="none" stroke="#ff7f0e" stroke-width="1.5" stroke-dasharray="1.5 2.48" stroke-linejoin="miter"/>
</g>
<text x="426.30" y="253.50" font-size="12.2" text-anchor="start" font-weight="normal" fill="#000" textLength="7.3" lengthAdjust="spacingAndGlyphs" class="t">0</text>
<text x="426.30" y="202.00" font-size="12.2" text-anchor="start" font-weight="normal" fill="#000" textLength="7.3" lengthAdjust="spacingAndGlyphs" class="t">5</text>
<text x="419.00" y="150.50" font-size="12.2" text-anchor="start" font-weight="normal" fill="#000" textLength="14.6" lengthAdjust="spacingAndGlyphs" class="t">10</text>
<text x="419.00" y="99.00" font-size="12.2" text-anchor="start" font-weight="normal" fill="#000" textLength="14.6" lengthAdjust="spacingAndGlyphs" class="t">15</text>
<text x="419.00" y="47.50" font-size="12.2" text-anchor="start" font-weight="normal" fill="#000" textLength="14.6" lengthAdjust="spacingAndGlyphs" class="t">20</text>
<text x="517.05" y="261.80" font-size="12.2" text-anchor="start" font-weight="normal" fill="#000" textLength="7.3" lengthAdjust="spacingAndGlyphs" class="t">1</text>
<text x="611.15" y="261.80" font-size="12.2" text-anchor="start" font-weight="normal" fill="#000" textLength="14.6" lengthAdjust="spacingAndGlyphs" class="t">10</text>
<text x="705.25" y="261.80" font-size="12.2" text-anchor="start" font-weight="normal" fill="#000" textLength="21.9" lengthAdjust="spacingAndGlyphs" class="t">100</text>
<g transform="translate(404.4,130.0) rotate(-90)"><text font-size="15.0" x="0" y="0" textLength="10.1" lengthAdjust="spacingAndGlyphs">N</text></g>
<text x="572.4" y="282.0" font-size="14.4" font-style="italic" textLength="9.6" lengthAdjust="spacingAndGlyphs">χ</text>
<text x="582.3" y="277.3" font-size="10.0">2</text>
<text x="581.6" y="286.5" font-size="10.0" textLength="42.0" lengthAdjust="spacingAndGlyphs">reduced</text>
<rect x="662.1" y="2.5" width="96.0" height="49.0" rx="1.6" fill="#fff" fill-opacity="0.8" stroke="#cccccc" stroke-opacity="0.45" stroke-width="0.55"/>
<path d="M666.7 16.450000000000003H689.3V8.55H666.7Z" fill="#1f77b4" fill-opacity="0.5" stroke="none"/>
<path d="M666.7 16.450000000000003H689.3V8.55H666.7Z" fill="none" stroke="#1f77b4" stroke-width="1.5"/>
<path d="M666.7 30.799999999999997H689.3V22.9H666.7Z" fill="#2ca02c" fill-opacity="0.4" stroke="none"/>
<path d="M666.7 30.799999999999997H689.3V22.9H666.7Z" fill="none" stroke="#2ca02c" stroke-width="1.5" stroke-dasharray="5.55 2.4"/>
<path d="M666.7 45.5H689.3V37.6H666.7Z" fill="#ff7f0e" fill-opacity="0.3" stroke="none"/>
<path d="M666.7 45.5H689.3V37.6H666.7Z" fill="none" stroke="#ff7f0e" stroke-width="1.5" stroke-dasharray="1.5 2.48"/>
<text x="698.60" y="16.10" font-size="10.6" text-anchor="start" font-weight="normal" fill="#000" textLength="38.2" lengthAdjust="spacingAndGlyphs">MICHI2</text>
<text x="698.40" y="30.50" font-size="10.6" text-anchor="start" font-weight="normal" fill="#000" textLength="39.8" lengthAdjust="spacingAndGlyphs">CIGALE</text>
<text x="698.60" y="45.00" font-size="10.6" text-anchor="start" font-weight="normal" fill="#000" textLength="54.0" lengthAdjust="spacingAndGlyphs">MAGPHYS</text>
</svg>
</body></html>
